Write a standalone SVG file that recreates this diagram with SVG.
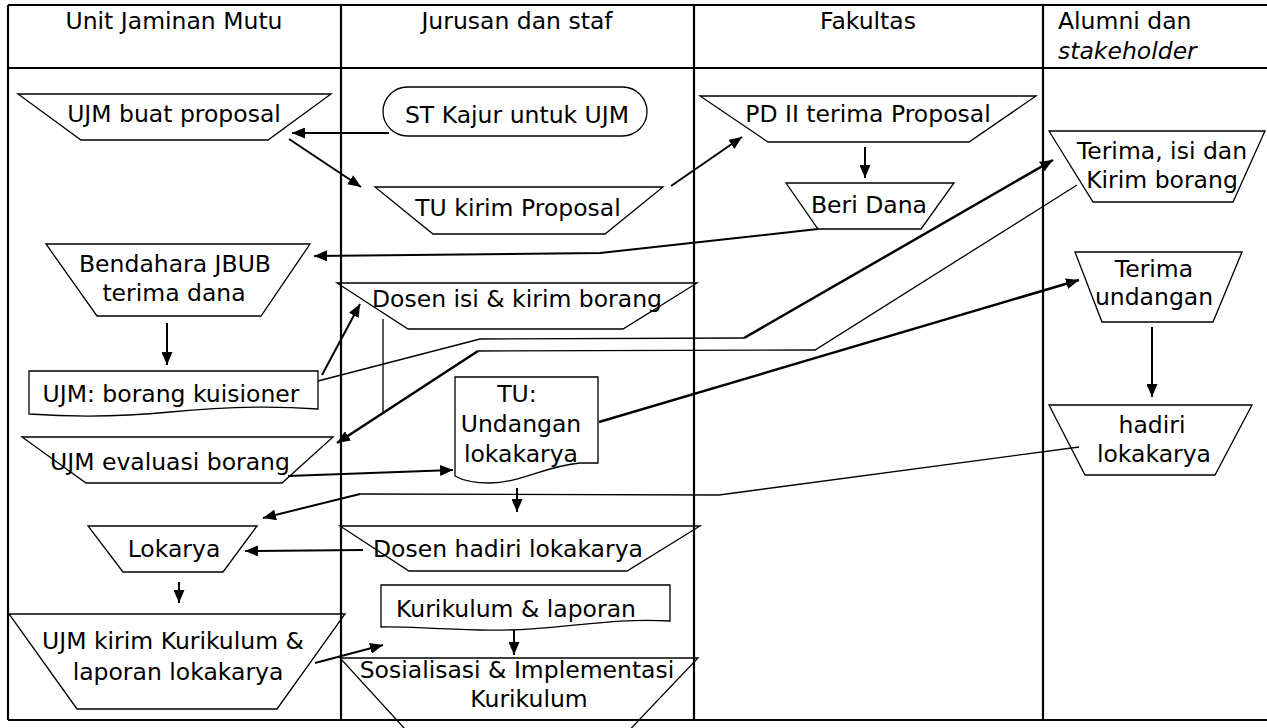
<svg xmlns="http://www.w3.org/2000/svg" width="1267" height="728" viewBox="0 0 1267 728">
<style>
.bg{fill:#fff}
.grid{stroke:#000;stroke-width:2.2;fill:none}
.shape{fill:#fff;stroke:#000;stroke-width:1.3}
.t{font-family:"DejaVu Sans",Verdana,sans-serif;font-size:23.5px;fill:#000;text-anchor:middle}
.ts{font-family:"DejaVu Sans",Verdana,sans-serif;font-size:23.5px;fill:#000;text-anchor:start}
.it{font-style:italic}
.c{fill:none;stroke:#000;stroke-width:2}
.thin{fill:none;stroke:#000;stroke-width:1.3}
.thick{fill:none;stroke:#000;stroke-width:2.5}
</style>
<defs>
<marker id="ah" markerUnits="userSpaceOnUse" markerWidth="13" markerHeight="11" refX="13" refY="5.5" orient="auto">
<path d="M0,0 L13,5.5 L0,11 Z" fill="#000"/>
</marker>
</defs>
<rect class="bg" x="0" y="0" width="1267" height="728"/>

<g id="nodes">
<g id="n-ujm-proposal"><polygon class="shape" points="18,94 331,94 268,140 81,140"/><text class="t" x="174" y="122">UJM buat proposal</text></g>
<g id="n-st-kajur"><rect class="shape" x="383" y="87" width="264" height="49" rx="24.5" ry="24.5"/><text class="t" x="517" y="123">ST Kajur untuk UJM</text></g>
<g id="n-tu-kirim"><polygon class="shape" points="375,187 663,187 605,234 433,234"/><text class="t" x="518" y="216">TU kirim Proposal</text></g>
<g id="n-pd2"><polygon class="shape" points="700,96 1036,96 969,142 768,142"/><text class="t" x="868" y="122">PD II terima Proposal</text></g>
<g id="n-beri-dana"><polygon class="shape" points="786,183 954,183 921,229 818,229"/><text class="t" x="869" y="213">Beri Dana</text></g>
<g id="n-terima-isi"><polygon class="shape" points="1049,131 1265,131 1233,202 1093,202"/><text class="t" x="1162" y="159">Terima, isi dan</text><text class="t" x="1162" y="188">Kirim borang</text></g>
<g id="n-bendahara"><polygon class="shape" points="46,244 310,244 261,316 97,316"/><text class="t" x="175" y="272">Bendahara JBUB</text><text class="t" x="174" y="301">terima dana</text></g>
<g id="n-dosen-isi"><polygon class="shape" points="337,283 697,283 623,329 408,329"/><text class="t" x="517" y="307">Dosen isi &amp; kirim borang</text></g>
<g id="n-borang"><path class="shape" d="M29,371 H318 V409 Q250,404 170,412 Q100,419 29,414 Z"/><text class="t" x="171" y="402">UJM: borang kuisioner</text></g>
<g id="n-evaluasi"><polygon class="shape" points="22,437 333,437 282,483 86,483"/><text class="t" x="170" y="470">UJM evaluasi borang</text></g>
<g id="n-tu-undangan"><path class="shape" d="M455,377 H598 V463 H580 C545,466 520,483 490,483 C475,483 462,480 455,476 Z"/><text class="t" x="517" y="402">TU:</text><text class="t" x="521" y="432">Undangan</text><text class="t" x="521" y="462">lokakarya</text></g>
<g id="n-terima-undangan"><polygon class="shape" points="1075,252 1242,252 1213,322 1102,322"/><text class="t" x="1154" y="277">Terima</text><text class="t" x="1154" y="305">undangan</text></g>
<g id="n-hadiri"><polygon class="shape" points="1049,405 1252,405 1215,475 1085,475"/><text class="t" x="1152" y="433">hadiri</text><text class="t" x="1154" y="462">lokakarya</text></g>
<g id="n-lokarya"><polygon class="shape" points="88,526 257,526 223,572 123,572"/><text class="t" x="174" y="557">Lokarya</text></g>
<g id="n-dosen-hadiri"><polygon class="shape" points="340,526 700,526 627,571 409,571"/><text class="t" x="508" y="557">Dosen hadiri lokakarya</text></g>
<g id="n-ujm-kirim"><polygon class="shape" points="9,614 345,614 277,709 77,709"/><text class="t" x="173" y="649">UJM kirim Kurikulum &amp;</text><text class="t" x="178" y="680">laporan lokakarya</text></g>
<g id="n-kurikulum"><path class="shape" d="M381,585 H670 V621 C600,617 560,632 480,630 C430,629 400,626 381,627 Z"/><text class="t" x="516" y="617">Kurikulum &amp; laporan</text></g>
<g id="n-sosialisasi"><polygon class="shape" points="340,658 698,658 620,740 415,740"/><text class="t" x="517" y="678">Sosialisasi &amp; Implementasi</text><text class="t" x="529" y="707">Kurikulum</text></g>
</g>

<g id="table">
<line class="grid" x1="8" y1="5" x2="1267" y2="5"/>
<line class="grid" x1="8" y1="68" x2="1267" y2="68"/>
<line class="grid" x1="8" y1="720" x2="1267" y2="720"/>
<line class="grid" x1="8" y1="5" x2="8" y2="720"/>
<line class="grid" x1="341" y1="5" x2="341" y2="720"/>
<line class="grid" x1="694" y1="5" x2="694" y2="720"/>
<line class="grid" x1="1043" y1="5" x2="1043" y2="720"/>
<text class="t" x="174" y="29">Unit Jaminan Mutu</text>
<text class="t" x="517" y="29">Jurusan dan staf</text>
<text class="t" x="868" y="29">Fakultas</text>
<text class="ts" x="1058" y="29">Alumni dan</text>
<text class="ts it" x="1058" y="59">stakeholder</text>
</g>

<g id="connectors">
<path class="c" d="M389,133 L292,133" marker-end="url(#ah)"/>
<path class="c" d="M289,139 L361,187" marker-end="url(#ah)"/>
<path class="c" d="M671,186 L742,137" marker-end="url(#ah)"/>
<path class="c" d="M865,147 L865,178" marker-end="url(#ah)"/>
<path class="c" d="M818,229 L600,253 L314,256" marker-end="url(#ah)"/>
<path class="c" d="M167,323 L167,365" marker-end="url(#ah)"/>
<path class="c" d="M322,375 L360,304" marker-end="url(#ah)"/>
<path class="thin" d="M318,381 L480,339 L744,338"/>
<path class="thick" d="M744,338 L1053,160" marker-end="url(#ah)"/>
<path class="thin" d="M1077,185 L815,350 L478,351"/>
<path class="thick" d="M478,351 L337,443" marker-end="url(#ah)"/>
<path class="thin" d="M383,319 L383,413"/>
<path class="c" d="M288,476 L453,470" marker-end="url(#ah)"/>
<path class="thick" d="M599,422 L1079,280" marker-end="url(#ah)"/>
<path class="c" d="M1152,327 L1152,397" marker-end="url(#ah)"/>
<path class="thin" d="M1079,447 L719,495 L360,494"/>
<path class="c" d="M360,494 L263,518" marker-end="url(#ah)"/>
<path class="c" d="M517,488 L517,512" marker-end="url(#ah)"/>
<path class="c" d="M363,550 L245,551" marker-end="url(#ah)"/>
<path class="c" d="M179,582 L179,603" marker-end="url(#ah)"/>
<path class="c" d="M315,663 L383,645" marker-end="url(#ah)"/>
<path class="c" d="M514,630 L514,655" marker-end="url(#ah)"/>
</g>
</svg>
